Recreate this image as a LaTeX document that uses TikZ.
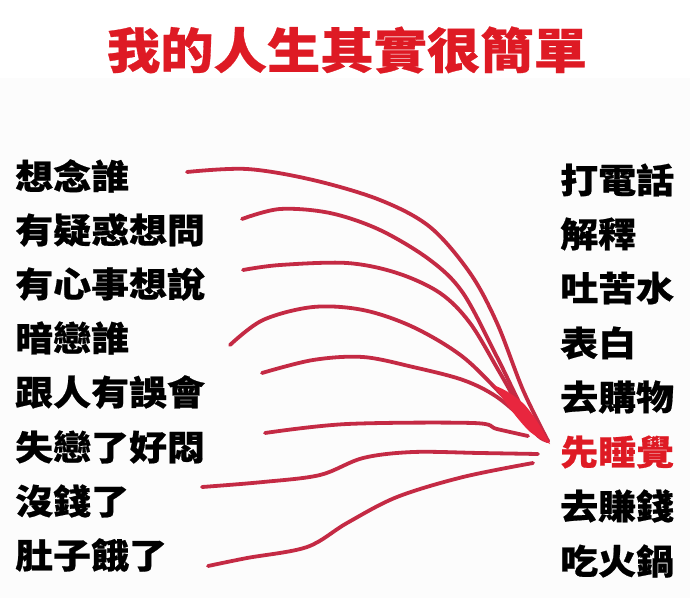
\documentclass[tikz,border=0pt]{standalone}
\usepackage{fontspec}
\newfontfamily\cjk{Noto Sans CJK TC}[FakeStretch=1.1,FakeBold=0.6]
\definecolor{titlered}{RGB}{222,26,36}
\definecolor{curvered}{RGB}{196,42,68}
\definecolor{wedgered}{RGB}{232,38,62}
\definecolor{bgband}{RGB}{252,252,252}
\begin{document}
\begin{tikzpicture}[x=1pt,y=-1pt,
  item/.style={anchor=west,inner sep=0pt,font=\cjk\bfseries\fontsize{34.5}{34.5}\selectfont},
  ttl/.style={inner sep=0pt,text=titlered,font=\cjk\bfseries\fontsize{48.5}{48.5}\selectfont},
  wire/.style={draw=curvered,line width=3.8pt,line cap=round,line join=round}]
\useasboundingbox (0,0) rectangle (690,598);
\fill[white] (0,0) rectangle (690,78);
\fill[bgband] (0,78) rectangle (690,598);

\node[ttl] (title) at (347,50) {我的人生其實很簡單};

% left column
\node[item] (l1) at (15,176) {想念誰};
\node[item] (l2) at (15,230) {有疑惑想問};
\node[item] (l3) at (15,284) {有心事想說};
\node[item] (l4) at (15,338) {暗戀誰};
\node[item] (l5) at (15,392) {跟人有誤會};
\node[item] (l6) at (15,447) {失戀了好悶};
\node[item] (l7) at (15,501) {沒錢了};
\node[item] (l8) at (15,555) {肚子餓了};

% right column
\node[item] (r1) at (560,180) {打電話};
\node[item] (r2) at (560,234) {解釋};
\node[item] (r3) at (560,288) {吐苦水};
\node[item] (r4) at (560,343) {表白};
\node[item] (r5) at (560,397) {去購物};
\node[item,text=titlered] (r6) at (560,452) {先睡覺};
\node[item] (r7) at (560,506) {去賺錢};
\node[item] (r8) at (560,561) {吃火鍋};

\coordinate (hub) at (548,441);

% curves
\draw[wire] plot[smooth,tension=0.55] coordinates {(187,172) (247,169) (313,180) (380,200) (430,227) (470,273) (497,323) (523,390) (hub)};
\draw[wire] plot[smooth,tension=0.55] coordinates {(242,219) (280,209) (330,213) (380,230) (430,260) (463,293) (497,357) (530,423) (hub)};
\draw[wire] plot[smooth,tension=0.55] coordinates {(243,270) (280,265) (347,263) (397,273) (440,293) (470,323) (500,373) (533,430) (hub)};
\draw[wire] plot[smooth,tension=0.55] coordinates {(230,345) (263,320) (313,307) (363,310) (413,327) (463,357) (507,400) (hub)};
\draw[wire] plot[smooth,tension=0.55] coordinates {(262,373) (313,360) (363,357) (413,367) (463,380) (497,397) (530,425) (hub)};
\draw[wire] plot[smooth,tension=0.55] coordinates {(265,433) (347,424) (473,423) (497,429) (528,436)};
\draw[wire] plot[smooth,tension=0.55] coordinates {(202,487) (263,482) (320,475) (363,458) (413,452) (480,453) (538,454)};
\draw[wire] plot[smooth,tension=0.55] coordinates {(208,566) (247,558) (307,547) (347,523) (397,497) (463,477) (533,463)};

% merged wedge where the curves meet
\fill[wedgered] (493,385) .. controls (505,389) and (515,396) .. (524,404)
  .. controls (533,414) and (542,428) .. (550,444)
  .. controls (542,440) and (535,436) .. (529,431)
  .. controls (520,422) and (511,410) .. (503,399)
  .. controls (499,393) and (496,389) .. (493,385) -- cycle;
\end{tikzpicture}
\end{document}
